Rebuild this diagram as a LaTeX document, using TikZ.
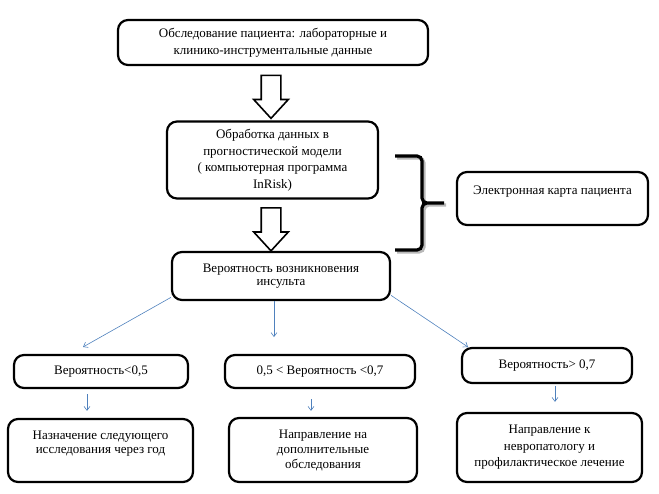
\documentclass[tikz,border=0pt]{standalone}
\usepackage{fontspec}
\setmainfont{Liberation Serif}
\usetikzlibrary{arrows.meta,shapes.arrows}
\definecolor{arrblue}{RGB}{79,129,189}
\tikzstyle{rbox}=[rectangle, draw, rounded corners=10pt, line width=2.2pt, align=center, inner sep=2pt, font=\fontsize{13}{16.5}\selectfont]
\tikzstyle{hollow}=[single arrow, draw, line width=1.6pt, rotate=-90, minimum height=43pt, minimum width=33pt, single arrow head extend=7.5pt, single arrow tip angle=85, inner sep=9pt]
\tikzstyle{barr}=[-{Straight Barb[length=4pt,width=6pt]}, arrblue, line width=0.6pt]
\tikzstyle{brace}=[line width=3.2pt, rounded corners=5pt]

\begin{document}
\begin{tikzpicture}[x=1pt, y=-1pt]
\useasboundingbox (0,0) rectangle (659,493);

\node[rbox, minimum width=310, minimum height=45, font=\fontsize{13}{17}\selectfont] (n1) at (273,42.5) {Обследование пациента: лабораторные и\\клинико-инструментальные данные};
\node[rbox, minimum width=211, minimum height=77] (n2) at (272.5,160) {Обработка данных в\\прогностической модели\\( компьютерная программа\\InRisk)};
\node[rbox, minimum width=218, minimum height=48, font=\fontsize{13}{13.5}\selectfont] (n3) at (281,276) {Вероятность возникновения\\инсульта};
\node[rbox, minimum width=191, minimum height=53] (n4) at (552.5,198.5) {Электронная карта пациента\\\mbox{}};

\node[rbox, minimum width=174, minimum height=33] (n5) at (101,371.5) {Вероятность<0,5};
\node[rbox, minimum width=190, minimum height=33] (n6) at (320,371.5) {0,5 < Вероятность <0,7};
\node[rbox, minimum width=170, minimum height=35] (n7) at (547,365.5) {Вероятность> 0,7};

\node[rbox, minimum width=185, minimum height=63, font=\fontsize{13}{14}\selectfont] (n8) at (100.5,450.5) {Назначение следующего\\исследования через год\\[2pt]};
\node[rbox, minimum width=188, minimum height=64, font=\fontsize{13}{15}\selectfont] (n9) at (323,450) {Направление на\\дополнительные\\обследования};
\node[rbox, minimum width=185, minimum height=69] (n10) at (549.5,447.5) {Направление к\\невропатологу и\\профилактическое лечение};

% big hollow arrows
\node[hollow] (a1) at (271,91.5) {};
\node[hollow] (a2) at (271,224) {};

% brace towards the card
\draw[brace, gray!55] (397,158) -- (424,158) -- (424,205) -- (449,205) -- (424,205) -- (424,252) -- (397,252);
\draw[brace] (395,156) -- (422,156) -- (422,203) -- (447,203) -- (422,203) -- (422,250) -- (395,250);

% thin blue arrows
\coordinate (e1) at (83,347);
\coordinate (e2) at (274,337);
\coordinate (e3) at (468,347);
\draw[barr] (n3.191) -- (e1);
\draw[barr] ([xshift=-7pt]n3.south) -- (e2);
\draw[barr] (n3.350) -- (e3);

\draw[barr, shorten <=5pt, shorten >=7pt] ([xshift=-14pt]n5.south) -- ([xshift=-13.5pt]n8.north);
\draw[barr, shorten <=10pt, shorten >=6pt] ([xshift=-9pt]n6.south) -- ([xshift=-12pt]n9.north);
\draw[barr, shorten <=2pt, shorten >=10pt] ([xshift=8pt]n7.south) -- ([xshift=5.5pt]n10.north);

\end{tikzpicture}
\end{document}
